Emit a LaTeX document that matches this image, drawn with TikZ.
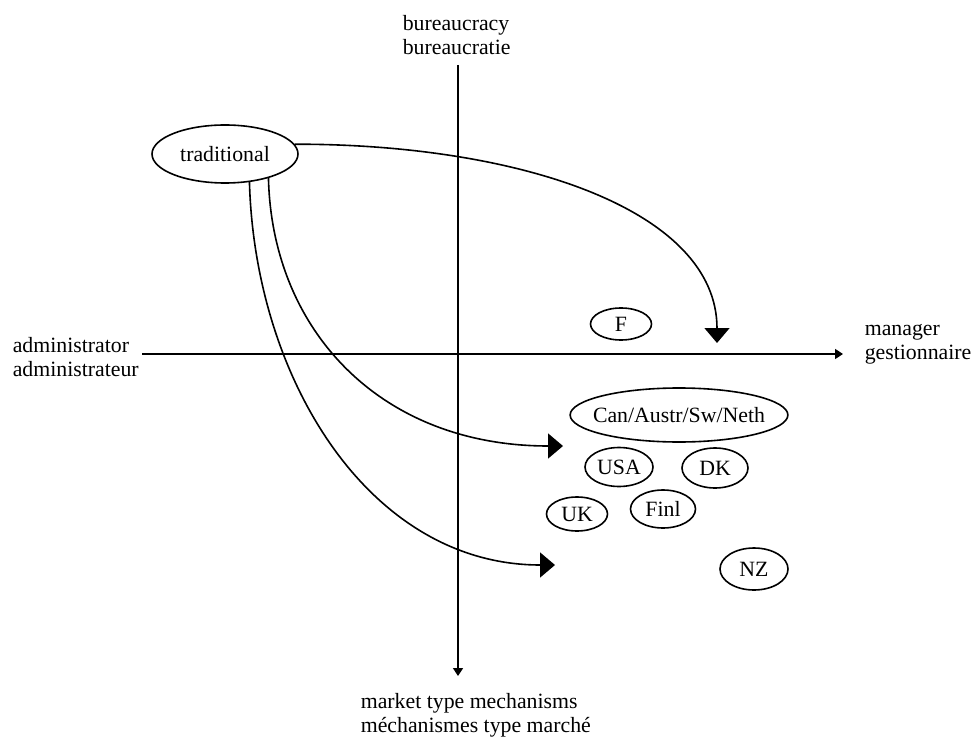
\documentclass[tikz,border=0pt]{standalone}
\usepackage{fontspec}
\setmainfont{Liberation Serif}
\usetikzlibrary{arrows.meta,shapes.geometric}

\begin{document}
\begin{tikzpicture}
        [x=0.5pt,y=-0.5pt,line width=0.8pt,
         font=\fontsize{10.9}{12}\selectfont,
         oval/.style={ellipse,draw=black,inner sep=0pt},
         axislabel/.style={align=left,anchor=west,inner sep=0pt},
         bigtip/.style={-{Triangle[length=7.5pt,width=12.5pt]}},
         axistip/.style={-{Triangle[length=4pt,width=5pt]}}]
        \useasboundingbox (0,0) rectangle (972,737);

        % axes
        \coordinate (top) at (458,65);
        \coordinate (bottom) at (458,676);
        \coordinate (left) at (142,354);
        \coordinate (right) at (843,354);
        \draw[axistip] (top) -- (bottom);
        \draw[axistip] (left) -- (right);

        \node [axislabel,name=bur] at (402,35) {bureaucracy\\bureaucratie};
        \node [axislabel,name=adm] at (12,357) {administrator\\administrateur};
        \node [axislabel,name=man] at (864,344) {manager\\gestionnaire};
        \node [axislabel,name=mkt] at (360,715) {market type mechanisms\\méchanismes type marché};

        % countries
        \node [oval,name=trad,minimum width=73pt,minimum height=29pt] at (225,154) {traditional};
        \node [oval,name=f,minimum width=30.5pt,minimum height=16pt] at (621,324) {F};
        \node [oval,name=can,minimum width=108pt,minimum height=27pt,inner xsep=-4.5pt] at (679,415) {Can/Austr/Sw/Neth};
        \node [oval,name=usa,minimum width=34pt,minimum height=19.5pt] at (619,467) {USA};
        \node [oval,name=dk,minimum width=33pt,minimum height=20pt] at (715,468) {DK};
        \node [oval,name=uk,minimum width=30.5pt,minimum height=17pt] at (577,514) {UK};
        \node [oval,name=finl,minimum width=32.5pt,minimum height=19pt] at (663,509) {Finl};
        \node [oval,name=nz,minimum width=34pt,minimum height=21pt] at (754,569) {NZ};

        % paths of reform
        \coordinate (tomanager) at (717,343);
        \coordinate (tomix) at (563,446);
        \coordinate (tomarket) at (555,565);
        \draw[bigtip] (trad.8) .. controls (520,144) and (717,210) .. (tomanager);
        \draw[bigtip] (trad.-29) .. controls (272,330) and (380,446) .. (tomix);
        \draw[bigtip] (trad.-49) .. controls (255,380) and (370,565) .. (tomarket);
\end{tikzpicture}
\end{document}
